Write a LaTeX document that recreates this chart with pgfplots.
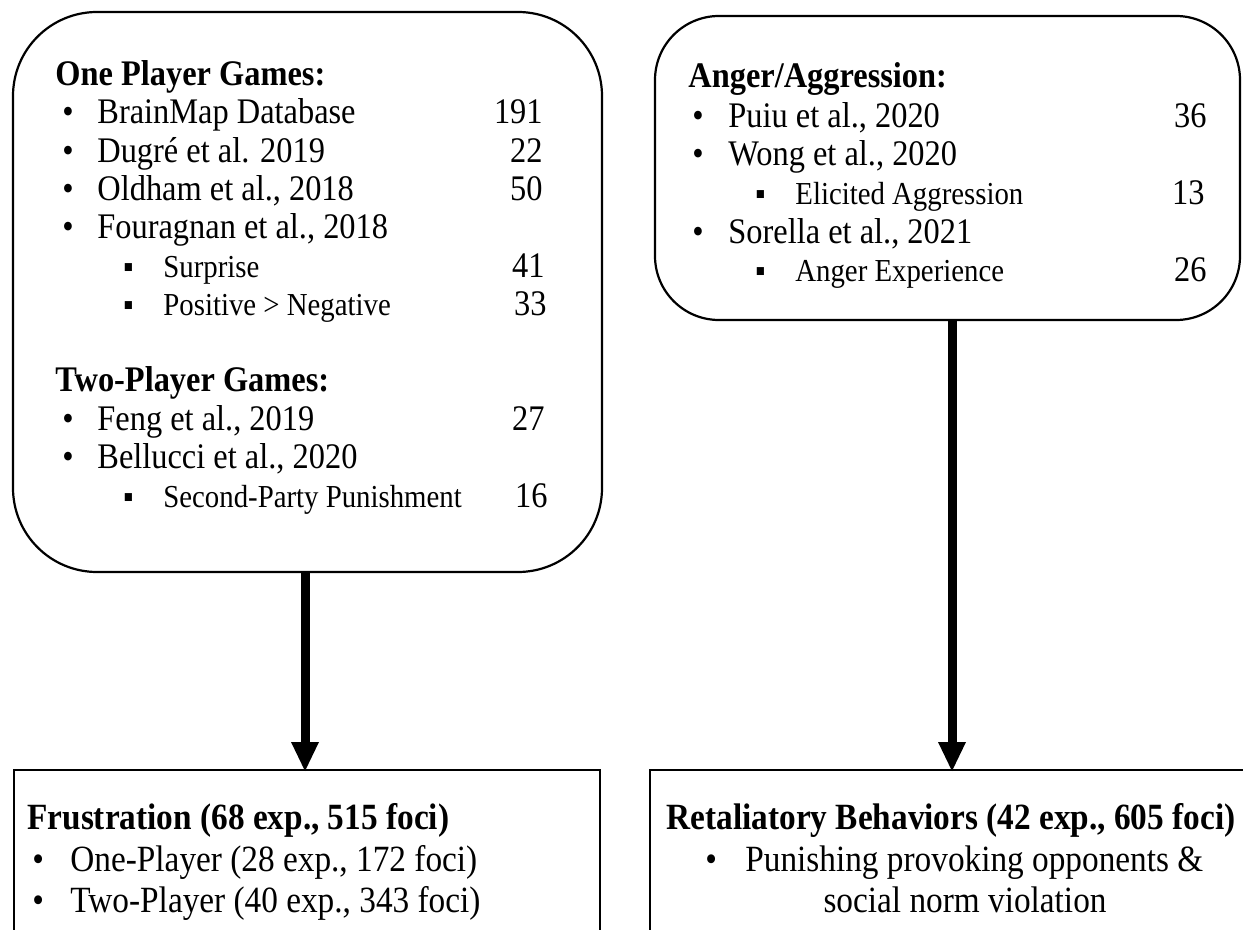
\documentclass[border=0pt]{standalone}
\usepackage{pgfplots}
\pgfplotsset{compat=1.18}
\usepackage{fontspec}
\setmainfont{Liberation Serif}[FakeStretch=0.9]
\begin{document}
\begin{tikzpicture}
\begin{axis}[
  scale only axis, width=621.5pt, height=465pt,
  xmin=0, xmax=1243, ymin=0, ymax=930, y dir=reverse,
  hide axis, clip=true,
]
% rounded boxes
\draw[line width=1.1pt, rounded corners=42pt] (axis cs:13,12) rectangle (axis cs:602,572);
\draw[line width=1.1pt, rounded corners=32pt] (axis cs:655,16) rectangle (axis cs:1240,320);
% bottom boxes
\addplot[line width=0.8pt, mark=none] coordinates {(14,930) (14,770) (600,770) (600,930)};
\addplot[line width=0.8pt, mark=none] coordinates {(650,930) (650,770) (1243,770)};
% arrows
\addplot[line width=4.5pt, mark=none] coordinates {(305,572) (305,746)};
\addplot[fill=black, draw=none, mark=none] coordinates {(291,742) (319,742) (305,771)} -- cycle;
\addplot[line width=4.5pt, mark=none] coordinates {(952,320) (952,746)};
\addplot[fill=black, draw=none, mark=none] coordinates {(938,742) (966,742) (952,771)} -- cycle;

\def\mainsz{\fontsize{18pt}{21pt}\selectfont}
\def\subsz{\fontsize{16pt}{19pt}\selectfont}
\def\botsz{\fontsize{18.5pt}{21pt}\selectfont}
\tikzset{lw/.style={anchor=base west, inner sep=0pt}, le/.style={anchor=base east, inner sep=0pt}, lc/.style={anchor=base, inner sep=0pt}}
% left top box text
\node[lw] at (axis cs:55,86) {\mainsz\bfseries One Player Games:};
\node[lw] at (axis cs:62,124) {\mainsz •};
\node[lw] at (axis cs:97,124) {\mainsz BrainMap Database};
\node[le] at (axis cs:543,124) {\mainsz 191};
\node[lw] at (axis cs:62,163) {\mainsz •};
\node[lw] at (axis cs:97,163) {\mainsz Dugré et al. 2019};
\node[le] at (axis cs:543,163) {\mainsz 22};
\node[lw] at (axis cs:62,201) {\mainsz •};
\node[lw] at (axis cs:97,201) {\mainsz Oldham et al., 2018};
\node[le] at (axis cs:543,201) {\mainsz 50};
\node[lw] at (axis cs:62,239) {\mainsz •};
\node[lw] at (axis cs:97,239) {\mainsz Fouragnan et al., 2018};
\node[lw] at (axis cs:123,278) {\subsz ▪};
\node[lw] at (axis cs:163,278) {\subsz Surprise};
\node[le] at (axis cs:545,278) {\mainsz 41};
\node[lw] at (axis cs:123,316) {\subsz ▪};
\node[lw] at (axis cs:163,316) {\subsz Positive > Negative};
\node[le] at (axis cs:547,316) {\mainsz 33};
\node[lw] at (axis cs:55,392) {\mainsz\bfseries Two-Player Games:};
\node[lw] at (axis cs:62,431) {\mainsz •};
\node[lw] at (axis cs:97,431) {\mainsz Feng et al., 2019};
\node[le] at (axis cs:545,431) {\mainsz 27};
\node[lw] at (axis cs:62,469) {\mainsz •};
\node[lw] at (axis cs:97,469) {\mainsz Bellucci et al., 2020};
\node[lw] at (axis cs:123,508) {\subsz ▪};
\node[lw] at (axis cs:163,508) {\subsz Second-Party Punishment};
\node[le] at (axis cs:548,508) {\mainsz 16};

% right top box text
\node[lw] at (axis cs:688,88) {\mainsz\bfseries Anger/Aggression:};
\node[lw] at (axis cs:692,128) {\mainsz •};
\node[lw] at (axis cs:728,128) {\mainsz Puiu et al., 2020};
\node[le] at (axis cs:1207,128) {\mainsz 36};
\node[lw] at (axis cs:692,166) {\mainsz •};
\node[lw] at (axis cs:728,166) {\mainsz Wong et al., 2020};
\node[lw] at (axis cs:755,205) {\subsz ▪};
\node[lw] at (axis cs:795,205) {\subsz Elicited Aggression};
\node[le] at (axis cs:1205,205) {\mainsz 13};
\node[lw] at (axis cs:692,244) {\mainsz •};
\node[lw] at (axis cs:728,244) {\mainsz Sorella et al., 2021};
\node[lw] at (axis cs:755,282) {\subsz ▪};
\node[lw] at (axis cs:795,282) {\subsz Anger Experience};
\node[le] at (axis cs:1207,282) {\mainsz 26};

% bottom left text
\node[lw] at (axis cs:27,829) {\botsz\bfseries Frustration (68 exp., 515 foci)};
\node[lw] at (axis cs:32,871) {\botsz •};
\node[lw] at (axis cs:70,871) {\botsz One-Player (28 exp., 172 foci)};
\node[lw] at (axis cs:32,912) {\botsz •};
\node[lw] at (axis cs:70,912) {\botsz Two-Player (40 exp., 343 foci)};

% bottom right text
\node[lc] at (axis cs:951,829) {\botsz\bfseries Retaliatory Behaviors (42 exp., 605 foci)};
\node[lw] at (axis cs:705,871) {\botsz •};
\node[lw] at (axis cs:745,871) {\botsz Punishing provoking opponents \&};
\node[lc] at (axis cs:965,912) {\botsz social norm violation};
\end{axis}
\pgfresetboundingbox
\path[use as bounding box] (current axis.south west) rectangle (current axis.north east);
\end{tikzpicture}
\end{document}
